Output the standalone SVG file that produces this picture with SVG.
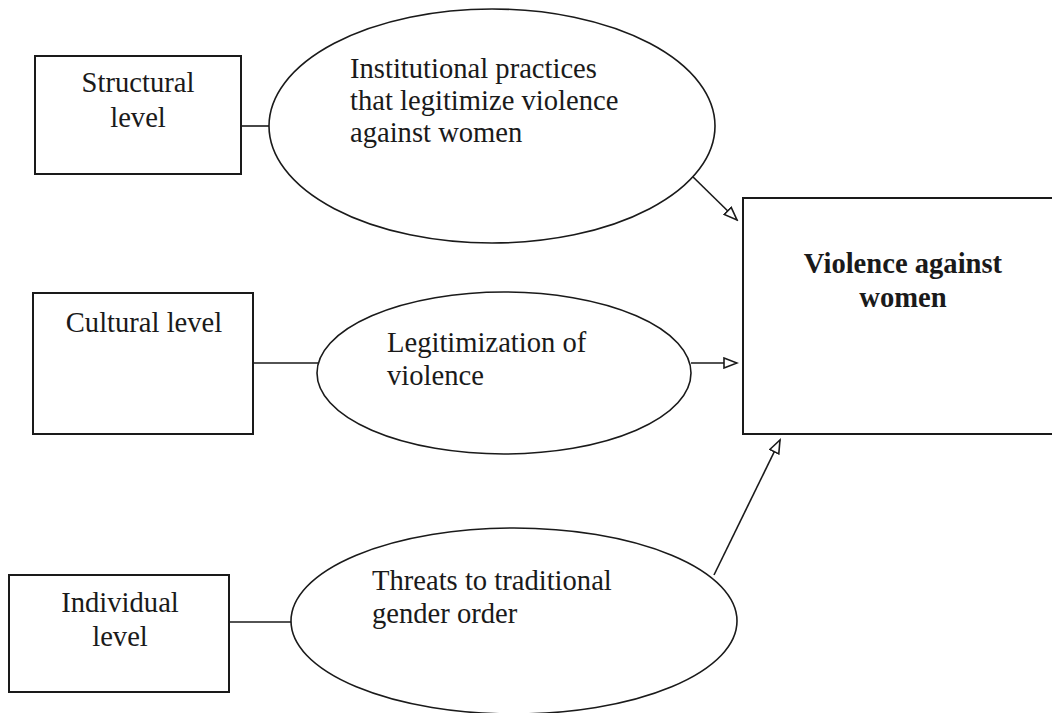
<svg xmlns="http://www.w3.org/2000/svg" width="1052" height="713" viewBox="0 0 1052 713">
<style>
  .box { fill: #ffffff; stroke: #1a1a1a; stroke-width: 2; }
  .ell { fill: #ffffff; stroke: #1a1a1a; stroke-width: 1.6; }
  .t { font-family: "Liberation Serif", "Times New Roman", serif; font-size: 28.6px; fill: #1a1a1a; }
  .b { font-family: "Liberation Serif", "Times New Roman", serif; font-size: 28.6px; font-weight: bold; fill: #1a1a1a; }
  .c { text-anchor: middle; }
  .ln { stroke: #1a1a1a; stroke-width: 1.6; fill: none; }
</style>
<defs>
  <marker id="arr" markerUnits="userSpaceOnUse" markerWidth="16" markerHeight="12" refX="14" refY="6" orient="auto">
    <path d="M1,1 L14,6 L1,11 Z" fill="#ffffff" stroke="#1a1a1a" stroke-width="1.6"/>
  </marker>
</defs>
<rect width="1052" height="713" fill="#ffffff"/>

<g id="connectors">
  <line class="ln" x1="241" y1="126" x2="269" y2="126"/>
  <line class="ln" x1="245" y1="363" x2="318" y2="363"/>
  <line class="ln" x1="220" y1="622" x2="292" y2="622"/>
  <line class="ln" x1="690" y1="174" x2="737" y2="220" marker-end="url(#arr)"/>
  <line class="ln" x1="691" y1="363" x2="737" y2="363" marker-end="url(#arr)"/>
  <line class="ln" x1="714" y1="575" x2="780" y2="440" marker-end="url(#arr)"/>
</g>

<g id="structural">
  <rect class="box" x="35" y="56" width="206" height="118"/>
  <text class="t c" x="138" y="92">Structural</text>
  <text class="t c" x="138" y="127">level</text>
</g>

<g id="cultural">
  <rect class="box" x="33" y="293" width="220" height="141"/>
  <text class="t c" x="144" y="332">Cultural level</text>
</g>

<g id="individual">
  <rect class="box" x="9" y="575" width="220" height="117"/>
  <text class="t c" x="120" y="612">Individual</text>
  <text class="t c" x="120" y="646">level</text>
</g>

<g id="institutional">
  <ellipse class="ell" cx="492" cy="126" rx="223" ry="117"/>
  <text class="t" x="350" y="78">Institutional practices</text>
  <text class="t" x="350" y="110">that legitimize violence</text>
  <text class="t" x="350" y="142">against women</text>
</g>

<g id="legitimization">
  <ellipse class="ell" cx="504" cy="373" rx="187" ry="81"/>
  <text class="t" x="387" y="352">Legitimization of</text>
  <text class="t" x="387" y="385">violence</text>
</g>

<g id="threats">
  <ellipse class="ell" cx="514" cy="621" rx="223" ry="93"/>
  <text class="t" x="372" y="590">Threats to traditional</text>
  <text class="t" x="372" y="623">gender order</text>
</g>

<g id="violence">
  <rect class="box" x="743" y="198" width="320" height="236"/>
  <text class="b c" x="903" y="273">Violence against</text>
  <text class="b c" x="903" y="307">women</text>
</g>
</svg>
